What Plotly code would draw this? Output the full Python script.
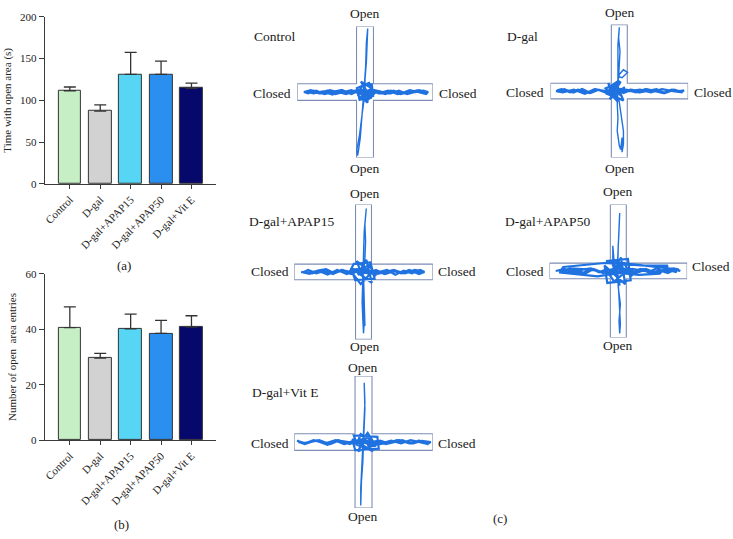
import plotly.graph_objects as go

W, H = 733, 539
FONT = "Liberation Serif"

# ---------------- bar chart data ----------------
groups = ["Control", "D-gal", "D-gal+APAP15", "D-gal+APAP50", "D-gal+Vit E"]
time_open = [111.5, 87.0, 131.0, 131.0, 114.5]
time_open_err = [4.5, 7.5, 26.5, 16.0, 6.0]
entries_open = [40.6, 29.6, 40.2, 38.5, 40.8]
entries_open_err = [7.5, 1.7, 5.3, 4.7, 4.1]
bar_colors = ["#c6efc6", "#d2d2d2", "#56d5f5", "#2b8ff0", "#07086c"]
time_ticks = [0, 50, 100, 150, 200]
entry_ticks = [0, 20, 40, 60]

# ---------------- maze tracks (local units: arm ends at +/-100, up = +) ----------------
# closed-arm sweeps + centre activity
ctrl_closed_u = [-88,-76,-64,-52,-40,-28,-16,-6,4,14,26,38,50,62,74,86,93,
                 90,78,66,54,42,30,18,8,-2,-12,-24,-36,-48,-60,-72,-84,-90,
                 -80,-68,-56,-44,-32,-20,-10,
                 -4,10,12,-8,-12,6,14,2,-10,8,-6,11,-11,4,-2,9,
                 8,20,34,48,62,76,90,80,66,52,38,24,12,
                 -6,-20,-34,-48,-62,-76,-86]
ctrl_closed_v = [0,2,-2,3,0,-3,2,4,-2,3,0,-2,2,-3,0,2,0,
                 -3,0,3,-2,2,-3,0,-4,3,2,-2,3,0,-3,2,-2,0,
                 3,-2,2,-3,0,3,-2,
                 10,12,-6,-12,6,14,-2,-14,4,-8,16,5,-4,-16,8,-10,
                 3,-2,2,-3,0,2,-1,3,0,-3,2,-2,0,
                 4,-3,3,-4,1,-2,1]
# open-arm excursions
ctrl_open_u = [0,0,2,3,4,2,1,-1,-3,-5,-7,-10,-11,-12,-8,-5,-2,0]
ctrl_open_v = [0,20,45,70,97,75,40,10,-20,-45,-70,-92,-97,-88,-65,-40,-15,0]

dgal_closed_u = [-92,-80,-68,-56,-44,-32,-20,-8,4,16,28,40,52,64,76,88,94,
                 90,78,66,54,42,30,18,6,-6,-18,-30,-42,-54,-66,-78,-90,
                 -84,-72,-60,-48,-36,-24,-12,
                 -16,-6,-20,2,-14,8,-10,-4,6,-18,0,-12,4,-8,-2,-15,
                 10,24,38,52,66,80,92,78,62,46,30,14,
                 -2,-18,-34,-50,-66,-82,-92]
dgal_closed_v = [0,3,-2,2,-3,2,0,3,-2,2,-2,3,0,-3,2,0,1,
                 -2,2,-3,3,0,-2,2,-3,4,-2,2,-3,3,-2,0,1,
                 3,-2,2,-3,3,0,-2,
                 12,-10,4,14,-12,6,-6,10,-14,-4,16,8,-8,2,-16,-2,
                 2,-2,3,0,-3,2,-2,0,3,-2,2,0,
                 4,-3,3,-4,2,-2,0]
dgal_open_u = [-2,-2,0,6,12,4,-1,0,1,-1,0,-2,
               -2,-3,-2,-3,-1,0,2,4,4,6,6,3,-1]
dgal_open_v = [0,15,25,32,28,20,22,40,60,80,96,70,
               0,-20,-40,-60,-75,-82,-88,-70,-92,-80,-60,-40,-10]

ap15_closed_u = [-90,-78,-66,-54,-42,-30,-18,-6,6,18,30,42,54,66,78,88,
                 82,70,58,46,34,22,10,-2,-14,-26,-38,-50,-62,-74,-86,
                 -80,-68,-56,-44,-32,-20,
                 -14,10,16,-12,-18,12,4,-8,14,-4,-16,8,18,-10,2,-6,
                 8,20,32,44,56,68,80,88,74,60,46,32,18,4,
                 -10,-24,-38,-52,-66,-80,-88]
ap15_closed_v = [0,-3,2,4,-2,3,-3,2,-2,3,-3,2,-2,3,-2,0,
                 3,-2,2,-4,3,0,-3,2,4,-2,3,-3,2,-2,0,
                 3,-2,2,-3,3,0,
                 12,14,-10,-12,6,-16,18,-4,2,-18,-2,10,-6,16,-14,4,
                 2,-3,0,3,-2,2,-3,0,3,-2,2,-3,0,2,
                 4,-3,3,-4,2,-2,0]
ap15_open_u = [0,2,3,2,4,1,0,-1,-2,-1,0,1,-1,0,2,0]
ap15_open_v = [0,20,45,70,94,60,25,-20,-45,-70,-91,-75,-50,-25,-80,-5]

ap50_closed_u = [-91,-78,-65,-52,-40,-28,-16,-4,8,20,32,44,56,68,80,90,
                 84,72,60,48,36,24,12,0,-12,-24,-36,-48,-60,-72,-84,
                 -80,-50,-20,10,40,72,
                 60,30,0,-30,-60,-86,
                 -70,-40,-10,20,50,80,88,
                 -18,14,18,-16,-20,10,4,-12,16,-6,-14,8,20,-10,2,-4,
                 10,25,40,55,70,85,70,55,40,25,10,
                 -6,-22,-38,-54,-70,-86]
ap50_closed_v = [0,3,-3,2,4,-2,3,-4,2,-3,3,-2,4,-2,2,0,
                 3,-3,2,-4,3,-2,4,-3,2,-2,3,-4,2,-3,0,
                 6,9,12,10,8,8,
                 -4,-6,-3,-8,-5,-2,
                 4,2,-4,3,-2,4,2,
                 15,18,-14,-18,8,-20,20,-6,4,-16,-4,12,-8,16,-22,6,
                 3,-3,2,-2,3,-2,2,-3,3,-2,0,
                 4,-3,3,-4,2,-1]
ap50_open_u = [-1,-1,0,1,2,0,-1,-8,-8,-6,0,1,2,3,2,1,3,0,-1]
ap50_open_v = [0,20,40,60,87,50,15,10,38,12,-20,-40,-60,-80,-94,-75,-50,-25,-5]

vite_closed_u = [-96,-84,-72,-60,-48,-36,-24,-12,0,12,24,36,48,60,72,84,97,
                 92,80,68,56,44,32,20,8,-4,-16,-28,-40,-52,-64,-76,-88,-95,
                 -85,-70,-55,-40,-25,-10,
                 -14,20,22,-12,-16,18,6,-6,14,-10,-4,12,23,-8,2,8,
                 10,24,38,52,66,80,94,82,68,54,40,26,12,
                 -4,-20,-36,-52,-68,-84,-94]
vite_closed_v = [2,-2,3,0,-3,2,-2,3,0,-3,2,-2,3,0,-2,2,0,
                 -3,2,-2,3,0,-3,2,-2,3,0,-3,2,-2,3,0,-2,2,
                 -3,2,-2,3,0,-2,
                 10,8,-10,-12,4,-6,14,-2,-14,-4,12,2,-2,-14,6,-8,
                 2,-3,0,3,-2,2,-3,0,3,-2,2,-2,0,
                 4,-3,3,-4,2,-2,0]
vite_open_u = [0,1,2,1,2,0,-2,-3,-4,-4,-3,-1,0]
vite_open_v = [0,20,50,90,60,15,-20,-45,-70,-96,-60,-30,0]

tracks = [
    ((ctrl_closed_u, ctrl_closed_v), (ctrl_open_u, ctrl_open_v)),
    ((dgal_closed_u, dgal_closed_v), (dgal_open_u, dgal_open_v)),
    ((ap15_closed_u, ap15_closed_v), (ap15_open_u, ap15_open_v)),
    ((ap50_closed_u, ap50_closed_v), (ap50_open_u, ap50_open_v)),
    ((vite_closed_u, vite_closed_v), (vite_open_u, vite_open_v)),
]

# ---------------- layout geometry (pixels) ----------------
mazes = [
    dict(cx=364, cy=88, hx=68, hy=67, w=8.5),
    dict(cx=619, cy=87, hx=69, hy=68, w=8.0),
    dict(cx=362.5, cy=272, hx=69.5, hy=69, w=8.0),
    dict(cx=618, cy=271, hx=69, hy=68, w=8.0),
    dict(cx=362.5, cy=446, hx=69.5, hy=67.5, w=8.5),
]

def px(x):
    return x / W

def py(y):
    return 1 - y / H

fig = go.Figure()

for vals, errs, ax in [(time_open, time_open_err, ""), (entries_open, entries_open_err, "2")]:
    fig.add_trace(go.Bar(
        x=groups, y=vals,
        marker=dict(color=bar_colors, line=dict(color="#333333", width=1)),
        width=0.75,
        error_y=dict(type="data", symmetric=False, array=errs, arrayminus=[0] * len(errs),
                     color="#333333", thickness=1.3, width=6),
        xaxis="x" + ax, yaxis="y" + ax, showlegend=False, hoverinfo="skip",
    ))

track_color = "#1f72e0"
for k, ((cu, cv), (ou, ov)) in enumerate(tracks):
    n = str(k + 3)
    fig.add_trace(go.Scatter(
        x=ou, y=ov, mode="lines", line=dict(color=track_color, width=1.4),
        xaxis="x" + n, yaxis="y" + n, showlegend=False, hoverinfo="skip",
    ))
    fig.add_trace(go.Scatter(
        x=cu, y=cv, mode="lines", line=dict(color=track_color, width=2.2),
        xaxis="x" + n, yaxis="y" + n, showlegend=False, hoverinfo="skip",
    ))

axis_common = dict(showline=True, linecolor="#3a3a3a", linewidth=1.2, ticks="outside",
                   ticklen=5, tickwidth=1.2, tickcolor="#3a3a3a", showgrid=False, zeroline=False,
                   tickfont=dict(family=FONT, size=11, color="#222222"))

layout = dict(
    width=W, height=H, margin=dict(l=0, r=0, t=0, b=0),
    paper_bgcolor="white", plot_bgcolor="white",
    font=dict(family=FONT, color="#222222"),
    bargap=0,
)

xa = dict(axis_common, domain=[px(43), px(215)], range=[-0.82, 4.82], tickangle=-45, ticklen=4)
layout["xaxis"] = dict(xa, anchor="y")
layout["yaxis"] = dict(axis_common, domain=[py(182), py(11)], range=[0, 200], tickvals=time_ticks,
                       anchor="x", title=dict(text="Time with open area (s)", standoff=6,
                                              font=dict(family=FONT, size=11)))
layout["xaxis2"] = dict(xa, anchor="y2")
layout["yaxis2"] = dict(axis_common, domain=[py(444), py(274)], range=[0, 60], tickvals=entry_ticks,
                        anchor="x2", title=dict(text="Number of open  area entries", standoff=6,
                                                font=dict(family=FONT, size=11)))

shapes = []
for k, m in enumerate(mazes):
    n = str(k + 3)
    layout["xaxis" + n] = dict(domain=[px(m["cx"] - m["hx"]), px(m["cx"] + m["hx"])], range=[-100, 100],
                               visible=False, anchor="y" + n, fixedrange=True)
    layout["yaxis" + n] = dict(domain=[py(m["cy"] + m["hy"]), py(m["cy"] - m["hy"])], range=[-100, 100],
                               visible=False, anchor="x" + n, fixedrange=True)
    wu = m["w"] / m["hx"] * 100
    wv = m["w"] / m["hy"] * 100
    pts = [(-100, -wv), (-wu, -wv), (-wu, -100), (wu, -100), (wu, -wv), (100, -wv),
           (100, wv), (wu, wv), (wu, 100), (-wu, 100), (-wu, wv), (-100, wv)]
    path = "M" + " L".join(f"{a:.2f},{b:.2f}" for a, b in pts) + " Z"
    shapes.append(dict(type="path", path=path, xref="x" + n, yref="y" + n,
                       line=dict(color="#7d8db4", width=1.1), layer="below"))
layout["shapes"] = shapes

annotations = []

def txt(s, x, y, xanchor="center", size=13.5):
    annotations.append(dict(text=s, x=px(x), y=py(y), xref="paper", yref="paper",
                            xanchor=xanchor, yanchor="middle", showarrow=False, borderpad=0,
                            font=dict(family=FONT, size=size, color="#1a1a1a")))

maze_labels = [
    ("Control", 252, 31, 363, 8, 166, 291, 89, 437, 89),
    ("D-gal", 505, 31, 619, 7, 166, 544, 88, 693, 88),
    ("D-gal+APAP15", 247, 220, 363, 192, 348, 289, 272, 436, 272),
    ("D-gal+APAP50", 503, 220, 617, 190, 347, 544, 272, 691, 266),
    ("D-gal+Vit E", 250, 395, 361, 370, 522, 289, 447, 436, 447),
]
for name, lx, ly, ox, oty, oby, clx, cly, crx, cry in maze_labels:
    txt(name, lx, ly, "left")
    txt("Open", ox, oty)
    txt("Open", ox, oby)
    txt("Closed", clx, cly, "right")
    txt("Closed", crx, cry, "left")

txt("(a)", 122, 265, size=13)
txt("(b)", 120, 530, size=13)
txt("(c)", 499, 524, size=13)
layout["annotations"] = annotations

fig.update_layout(**layout)
fig.write_html("out.html", config={"displayModeBar": False},
               post_script="document.body.style.margin='0';document.body.style.padding='0';"
                           "document.documentElement.style.overflow='hidden';")
